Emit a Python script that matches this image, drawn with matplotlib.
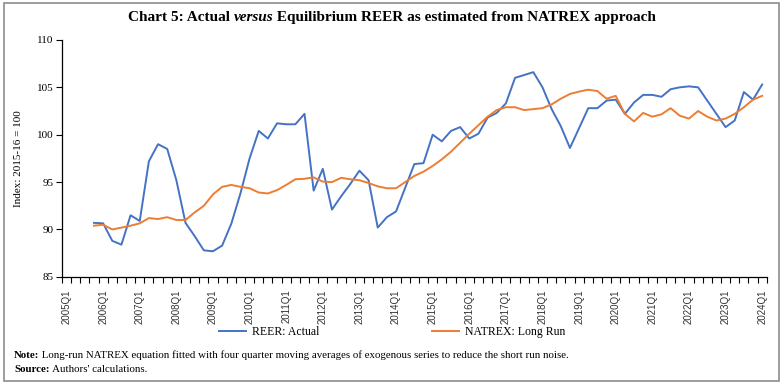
import matplotlib.pyplot as plt
from matplotlib.patches import Rectangle

# quarterly categories 2005Q1 .. 2024Q1
years = list(range(2005, 2025))
quarters = [f"{y}Q{q}" for y in years for q in range(1, 5)][:77]
start_idx = 3  # series begin at 2005Q4

reer_actual = [90.7, 90.65, 88.8, 88.4, 91.5, 90.9, 97.2, 99.0, 98.5, 95.2,
               90.7, 89.3, 87.8, 87.7, 88.3, 90.6, 93.8, 97.5, 100.4, 99.6,
               101.2, 101.1, 101.1, 102.2, 94.1, 96.4, 92.1, 93.5, 94.8, 96.2,
               95.2, 90.2, 91.3, 91.9, 94.4, 96.9, 97.0, 100.0, 99.3, 100.4,
               100.8, 99.6, 100.1, 101.8, 102.3, 103.3, 106.0, 106.3, 106.6, 105.0,
               102.7, 100.9, 98.6, 100.7, 102.8, 102.8, 103.6, 103.7, 102.2, 103.4,
               104.2, 104.2, 104.0, 104.8, 105.0, 105.1, 105.0, 103.6, 102.2, 100.8,
               101.5, 104.5, 103.7, 105.3]

natrex_long_run = [90.4, 90.5, 90.0, 90.2, 90.4, 90.65, 91.2, 91.1, 91.3, 91.0,
                   91.0, 91.8, 92.5, 93.7, 94.5, 94.7, 94.5, 94.35, 93.9, 93.8,
                   94.15, 94.7, 95.3, 95.35, 95.5, 95.05, 95.0, 95.45, 95.3, 95.2,
                   94.9, 94.55, 94.35, 94.35, 95.0, 95.65, 96.1, 96.7, 97.4, 98.2,
                   99.15, 100.1, 101.0, 101.9, 102.6, 102.9, 102.9, 102.6, 102.7, 102.8,
                   103.2, 103.8, 104.3, 104.55, 104.75, 104.6, 103.8, 104.1, 102.2, 101.4,
                   102.3, 101.9, 102.15, 102.8, 102.0, 101.7, 102.5, 101.9, 101.5, 101.7,
                   102.2, 102.9, 103.7, 104.1]

y_ticks = [85, 90, 95, 100, 105, 110]

title_parts = [('Chart 5: Actual ', 'normal'), ('versus', 'italic'),
               (' Equilibrium REER as estimated from NATREX approach', 'normal')]
note_lines = [('Note:', ' Long-run NATREX equation fitted with four quarter moving averages '
               'of exogenous series to reduce the short run noise.'),
              ('Source:', " Authors' calculations.")]

serif = 'Liberation Serif'
blue = '#4472C4'
orange = '#ED7D31'

fig = plt.figure(figsize=(7.84, 3.84), dpi=100)
renderer = fig.canvas.get_renderer()

# outer frame
fig.patches.append(Rectangle((0.005, 0.008), 0.989, 0.984, transform=fig.transFigure,
                             fill=False, edgecolor='#8c8c8c', lw=1.2))

ax = fig.add_axes([0.079, 0.279, 0.899, 0.617])

xs = list(range(start_idx, start_idx + len(reer_actual)))
ax.plot(xs, reer_actual, color=blue, lw=1.4, label='REER: Actual')
ax.plot(xs, natrex_long_run, color=orange, lw=1.4, label='NATREX: Long Run')

ax.set_xlim(-0.5, len(quarters) - 0.5)
ax.set_ylim(85, 110)
ax.set_yticks(y_ticks)
ax.set_yticklabels([str(v) for v in y_ticks], family=serif, fontsize=8)

label_pos = list(range(0, len(quarters), 4))
ax.set_xticks(label_pos)
ax.set_xticklabels([quarters[i] for i in label_pos], rotation=90,
                   fontsize=7, family='Liberation Sans', color='#333333')
ax.set_xticks([i - 0.5 for i in range(len(quarters) + 1)], minor=True)
ax.tick_params(axis='x', which='major', length=0, pad=9)
ax.tick_params(axis='x', which='minor', length=4, direction='out', width=0.8)
ax.tick_params(axis='y', length=4, width=0.8, pad=2)

for s in ['top', 'right']:
    ax.spines[s].set_visible(False)
ax.spines['left'].set_linewidth(0.9)
ax.spines['bottom'].set_linewidth(0.9)

ax.set_ylabel('Index: 2015-16 = 100', family=serif, fontsize=8, labelpad=10)

fig.legend(loc='center', bbox_to_anchor=(0.5, 0.135), ncol=2, frameon=False,
           prop={'family': serif, 'size': 8.5}, handlelength=2.3,
           columnspacing=9.5, handletextpad=0.5)


def fig_width(t):
    return t.get_window_extent(renderer=renderer).width / fig.bbox.width


# title with italic "versus"
texts = [fig.text(0, 0.955, txt, family=serif, fontsize=11, weight='bold',
                  style=style, ha='left', va='center') for txt, style in title_parts]
widths = [fig_width(t) for t in texts]
x = 0.5 - sum(widths) / 2
for t, w in zip(texts, widths):
    t.set_x(x)
    x += w

# note and source lines
for (head, body), yy in zip(note_lines, [0.074, 0.037]):
    h = fig.text(0.018, yy, head, family=serif, fontsize=7.8, weight='bold', va='center')
    fig.text(0.018 + fig_width(h), yy, body, family=serif, fontsize=7.8, va='center')

fig.savefig('out.png', dpi=100)
